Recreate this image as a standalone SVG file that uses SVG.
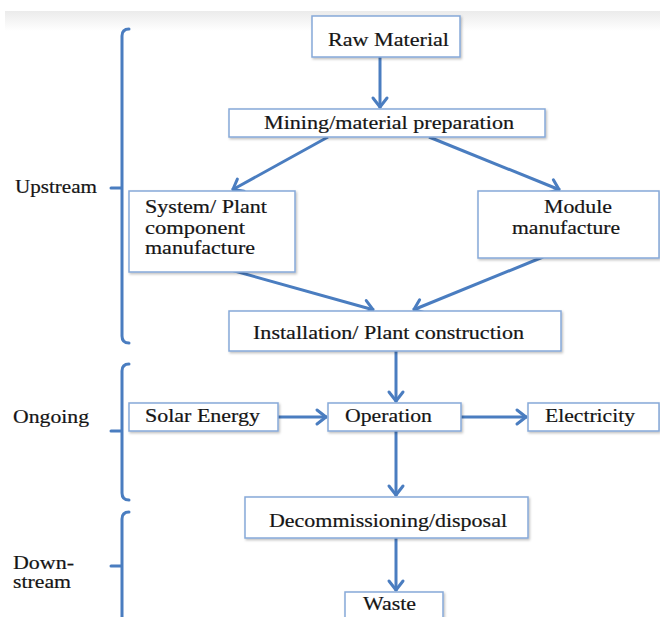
<svg xmlns="http://www.w3.org/2000/svg" width="660" height="617" viewBox="0 0 660 617">
  <defs>
    <linearGradient id="band" x1="0" y1="0" x2="0" y2="1">
      <stop offset="0" stop-color="#ebebeb"/>
      <stop offset="1" stop-color="#ffffff"/>
    </linearGradient>
    <filter id="sh" x="-10%" y="-10%" width="130%" height="140%">
      <feDropShadow dx="1.2" dy="1.5" stdDeviation="0.8" flood-color="#000" flood-opacity="0.25"/>
    </filter>
    <marker id="arr" markerUnits="userSpaceOnUse" markerWidth="24" markerHeight="24" viewBox="-12 -12 24 24" refX="0" refY="0" orient="auto" overflow="visible">
      <path d="M-10,-7 L-1,0 L-10,7" fill="none" stroke="#4a7dc0" stroke-width="3" stroke-linecap="round" stroke-linejoin="round"/>
    </marker>
    <style>
      .box { fill: #ffffff; stroke: #86a9d9; stroke-width: 1.5; filter: url(#sh); }
      .t { font-family: "Liberation Serif", "Times New Roman", serif; font-size: 19px; fill: #151515; stroke: #151515; stroke-width: 0.2; }
      .c { fill: none; stroke: #4a7dc0; stroke-width: 3; marker-end: url(#arr); }
      .br { fill: none; stroke: #4a7dc0; stroke-width: 3; stroke-linecap: round; }
    </style>
  </defs>
  <rect x="0" y="0" width="660" height="617" fill="#ffffff"/>
  <rect x="5" y="11" width="655" height="20" fill="url(#band)"/>

  <g id="brackets">
    <g id="upstream">
      <path class="br" d="M129,29 Q122,29 122,36 L122,336 Q122,343 129,343 M111,188 L122,188"/>
      <text class="t" x="15" y="193" textLength="82" lengthAdjust="spacingAndGlyphs">Upstream</text>
    </g>
    <g id="ongoing">
      <path class="br" d="M129,364 Q122,364 122,371 L122,493 Q122,500 129,500 M111,431 L122,431"/>
      <text class="t" x="13" y="423" textLength="76" lengthAdjust="spacingAndGlyphs">Ongoing</text>
    </g>
    <g id="downstream">
      <path class="br" d="M129,512 Q122,512 122,519 L122,620 M111,566 L122,566"/>
      <text class="t" x="13" y="569" textLength="61" lengthAdjust="spacingAndGlyphs">Down-</text>
      <text class="t" x="13" y="588" textLength="58" lengthAdjust="spacingAndGlyphs">stream</text>
    </g>
  </g>

  <g id="connectors">
    <line class="c" x1="380" y1="57" x2="380" y2="108"/>
    <line class="c" x1="328" y1="137" x2="232" y2="190"/>
    <line class="c" x1="429" y1="137" x2="560" y2="190"/>
    <line class="c" x1="231" y1="270" x2="374" y2="310"/>
    <line class="c" x1="543" y1="257" x2="413" y2="310"/>
    <line class="c" x1="396" y1="351" x2="396" y2="402"/>
    <line class="c" x1="278" y1="417" x2="327" y2="417"/>
    <line class="c" x1="461" y1="417" x2="527" y2="417"/>
    <line class="c" x1="396" y1="431" x2="396" y2="496"/>
    <line class="c" x1="396" y1="538" x2="396" y2="591"/>
  </g>

  <g id="raw-material">
    <rect class="box" x="312" y="16" width="148" height="41"/>
    <text class="t" x="328" y="46" textLength="121" lengthAdjust="spacingAndGlyphs">Raw Material</text>
  </g>
  <g id="mining">
    <rect class="box" x="229" y="109" width="316" height="28"/>
    <text class="t" x="264" y="129" textLength="250" lengthAdjust="spacingAndGlyphs">Mining/material preparation</text>
  </g>
  <g id="system">
    <rect class="box" x="129" y="191" width="166" height="81"/>
    <text class="t" x="145" y="213" textLength="122" lengthAdjust="spacingAndGlyphs">System/ Plant</text>
    <text class="t" x="145" y="234" textLength="100" lengthAdjust="spacingAndGlyphs">component</text>
    <text class="t" x="145" y="254" textLength="110" lengthAdjust="spacingAndGlyphs">manufacture</text>
  </g>
  <g id="module">
    <rect class="box" x="478" y="191" width="181" height="67"/>
    <text class="t" x="544" y="213" textLength="68" lengthAdjust="spacingAndGlyphs">Module</text>
    <text class="t" x="512" y="234" textLength="108" lengthAdjust="spacingAndGlyphs">manufacture</text>
  </g>
  <g id="installation">
    <rect class="box" x="229" y="311" width="332" height="40"/>
    <text class="t" x="253" y="339" textLength="271" lengthAdjust="spacingAndGlyphs">Installation/ Plant construction</text>
  </g>
  <g id="solar">
    <rect class="box" x="129" y="403" width="149" height="28"/>
    <text class="t" x="145" y="422" textLength="115" lengthAdjust="spacingAndGlyphs">Solar Energy</text>
  </g>
  <g id="operation">
    <rect class="box" x="328" y="403" width="133" height="28"/>
    <text class="t" x="345" y="422" textLength="87" lengthAdjust="spacingAndGlyphs">Operation</text>
  </g>
  <g id="electricity">
    <rect class="box" x="528" y="403" width="131" height="28"/>
    <text class="t" x="545" y="422" textLength="90" lengthAdjust="spacingAndGlyphs">Electricity</text>
  </g>
  <g id="decommissioning">
    <rect class="box" x="245" y="497" width="283" height="41"/>
    <text class="t" x="269" y="527" textLength="238" lengthAdjust="spacingAndGlyphs">Decommissioning/disposal</text>
  </g>
  <g id="waste">
    <rect class="box" x="345" y="592" width="98" height="40"/>
    <text class="t" x="363" y="610" textLength="53" lengthAdjust="spacingAndGlyphs">Waste</text>
  </g>
</svg>
